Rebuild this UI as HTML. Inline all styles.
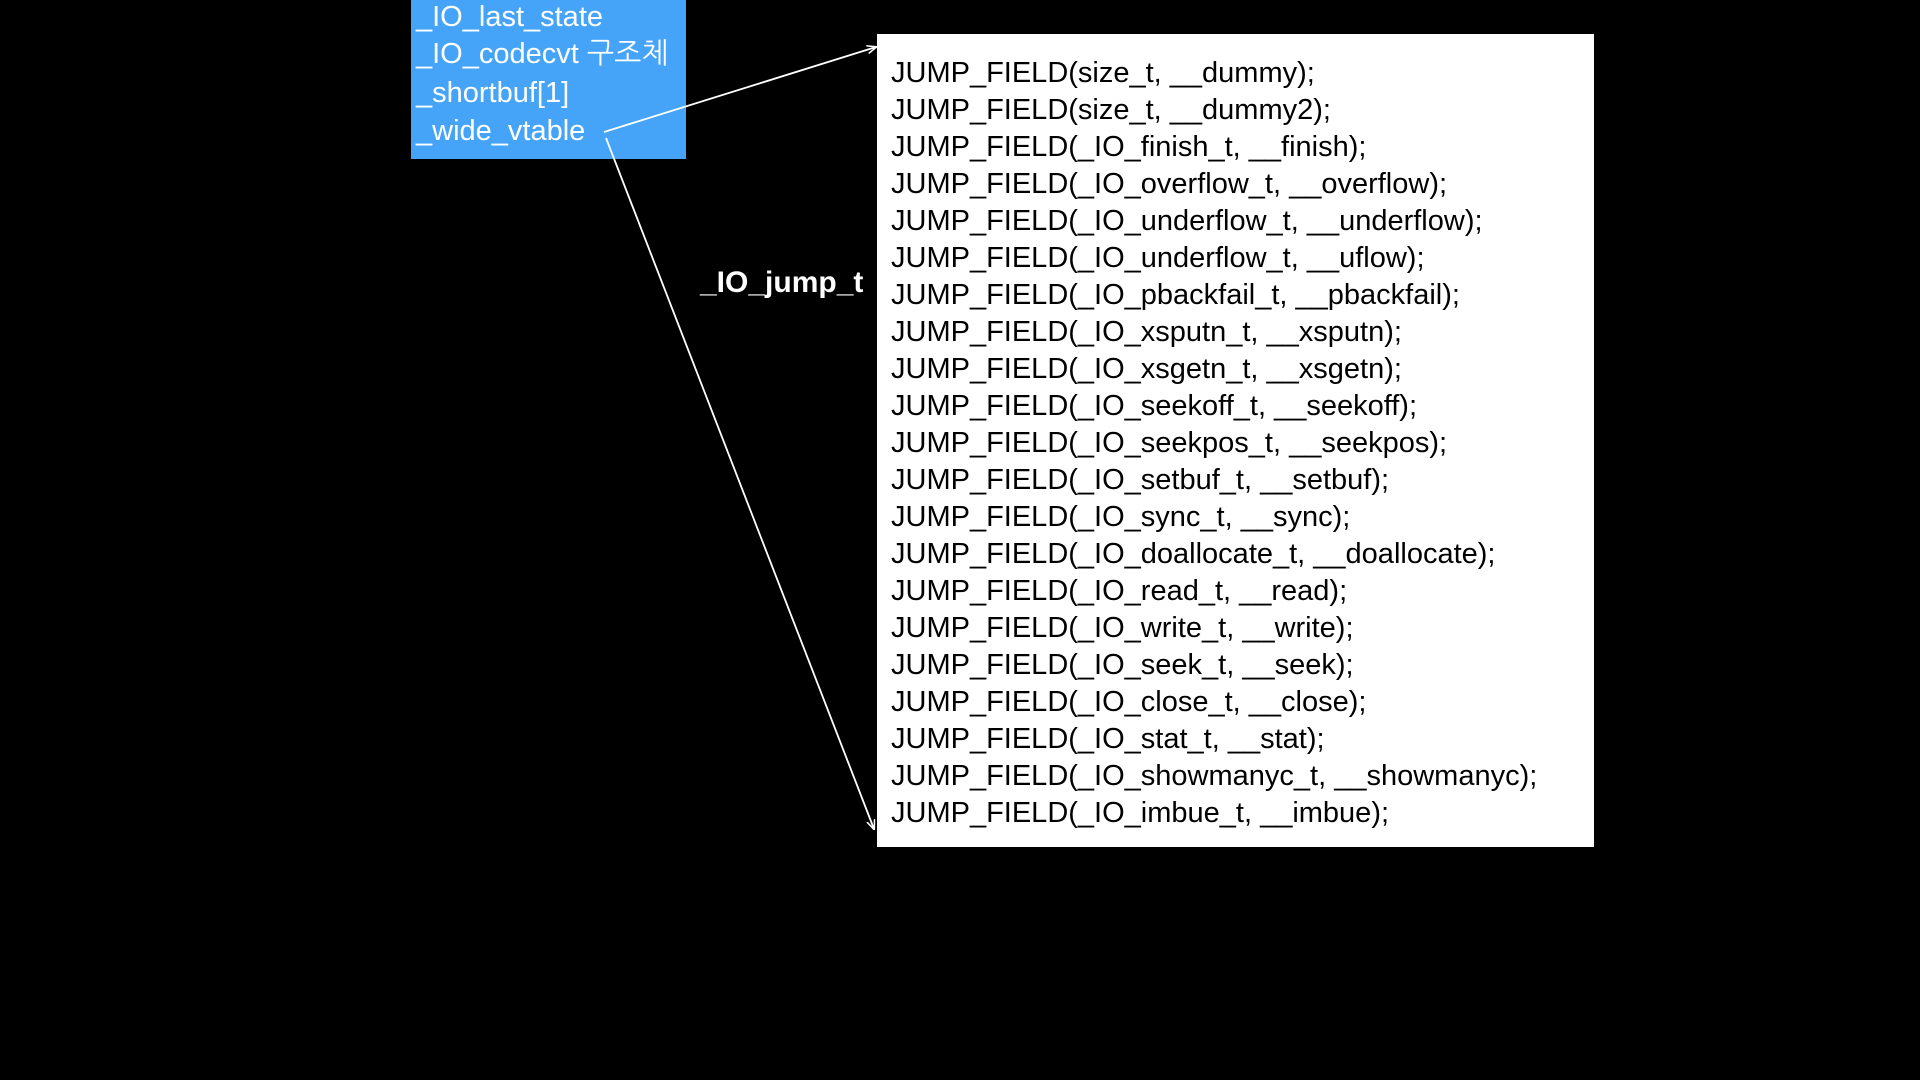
<!DOCTYPE html>
<html><head><meta charset="utf-8"><style>
html,body{margin:0;padding:0;background:#000;width:1920px;height:1080px;overflow:hidden}
body{position:relative;font-family:"Liberation Sans","NanumGothic","Noto Sans CJK KR",sans-serif}
.blue{position:absolute;left:411px;top:0;width:275px;height:159px;background:#46a4f8}
.bt{position:absolute;left:416px;color:#fff;font-size:29px;line-height:1;white-space:nowrap}
.white{position:absolute;left:877px;top:34px;width:717px;height:813px;background:#fff}
.wt{position:absolute;left:891px;color:#000;font-size:29px;line-height:1;white-space:nowrap}
.lbl{position:absolute;left:700px;top:266px;color:#fff;font-size:30px;font-weight:bold;white-space:nowrap}
</style></head><body>
<div class="blue"></div>
<div class="bt" style="top:3px">_IO_last_state</div>
<div class="bt" style="top:40px">_IO_codecvt 구조체</div>
<div class="bt" style="top:79px">_shortbuf[1]</div>
<div class="bt" style="top:117px">_wide_vtable</div>
<div class="white"></div>
<div id="lines"></div>
<div class="lbl">_IO_jump_t</div>
<svg width="1920" height="1080" style="position:absolute;left:0;top:0">
<defs><marker id="a" markerWidth="10" markerHeight="10" refX="9" refY="5" orient="auto" markerUnits="userSpaceOnUse"><path d="M0,1 L10,5 L0,9" fill="none" stroke="#fff" stroke-width="1.5"/></marker></defs>
<line x1="604" y1="132" x2="876" y2="47" stroke="#fff" stroke-width="1.8" marker-end="url(#a)"/>
<line x1="606" y1="138" x2="874" y2="829" stroke="#fff" stroke-width="1.8" marker-end="url(#a)"/>
</svg>
<div class="wt" style="top:59px">JUMP_FIELD(size_t, __dummy);</div>
<div class="wt" style="top:96px">JUMP_FIELD(size_t, __dummy2);</div>
<div class="wt" style="top:133px">JUMP_FIELD(_IO_finish_t, __finish);</div>
<div class="wt" style="top:170px">JUMP_FIELD(_IO_overflow_t, __overflow);</div>
<div class="wt" style="top:207px">JUMP_FIELD(_IO_underflow_t, __underflow);</div>
<div class="wt" style="top:244px">JUMP_FIELD(_IO_underflow_t, __uflow);</div>
<div class="wt" style="top:281px">JUMP_FIELD(_IO_pbackfail_t, __pbackfail);</div>
<div class="wt" style="top:318px">JUMP_FIELD(_IO_xsputn_t, __xsputn);</div>
<div class="wt" style="top:355px">JUMP_FIELD(_IO_xsgetn_t, __xsgetn);</div>
<div class="wt" style="top:392px">JUMP_FIELD(_IO_seekoff_t, __seekoff);</div>
<div class="wt" style="top:429px">JUMP_FIELD(_IO_seekpos_t, __seekpos);</div>
<div class="wt" style="top:466px">JUMP_FIELD(_IO_setbuf_t, __setbuf);</div>
<div class="wt" style="top:503px">JUMP_FIELD(_IO_sync_t, __sync);</div>
<div class="wt" style="top:540px">JUMP_FIELD(_IO_doallocate_t, __doallocate);</div>
<div class="wt" style="top:577px">JUMP_FIELD(_IO_read_t, __read);</div>
<div class="wt" style="top:614px">JUMP_FIELD(_IO_write_t, __write);</div>
<div class="wt" style="top:651px">JUMP_FIELD(_IO_seek_t, __seek);</div>
<div class="wt" style="top:688px">JUMP_FIELD(_IO_close_t, __close);</div>
<div class="wt" style="top:725px">JUMP_FIELD(_IO_stat_t, __stat);</div>
<div class="wt" style="top:762px">JUMP_FIELD(_IO_showmanyc_t, __showmanyc);</div>
<div class="wt" style="top:799px">JUMP_FIELD(_IO_imbue_t, __imbue);</div>
</body></html>
